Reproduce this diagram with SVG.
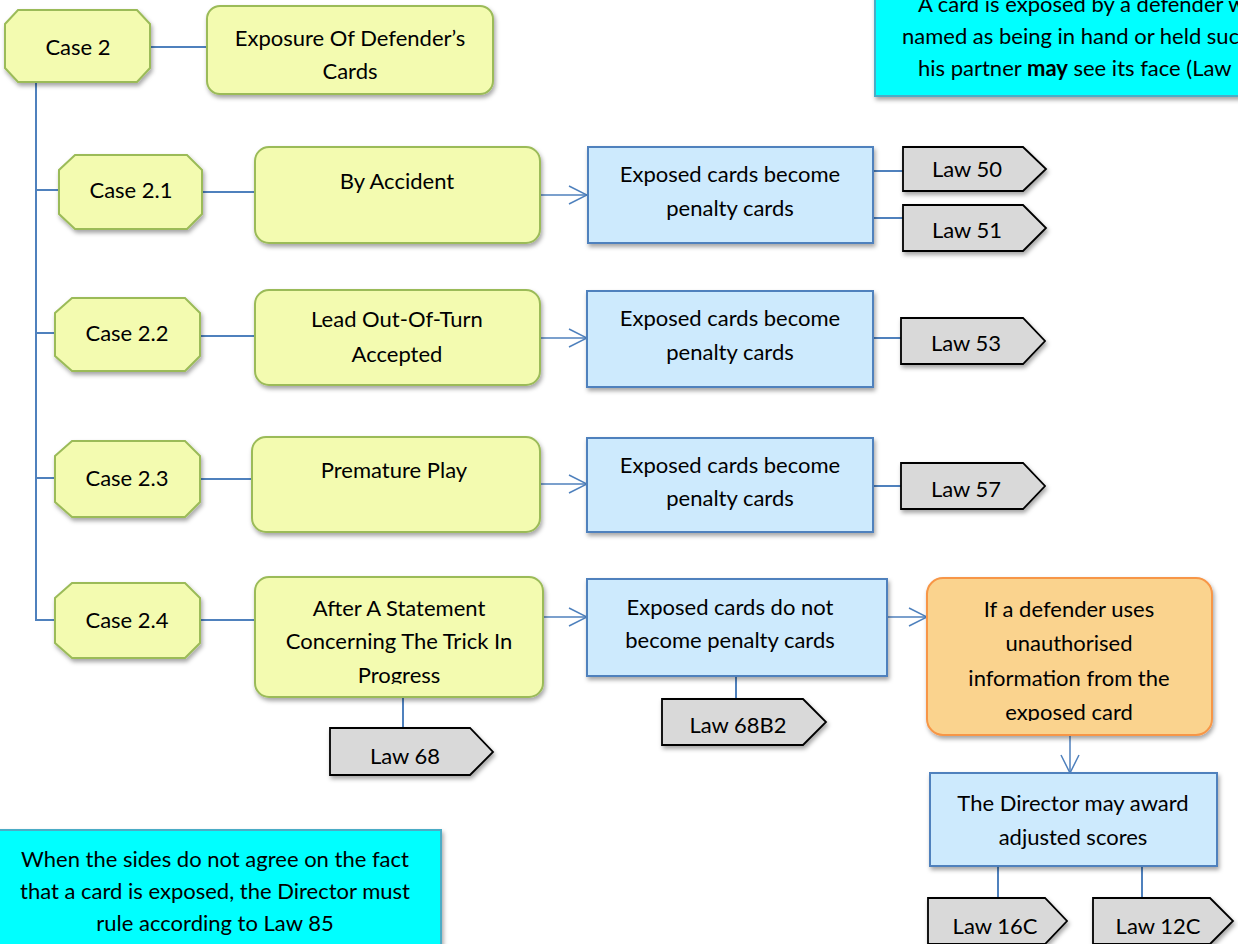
<svg xmlns="http://www.w3.org/2000/svg" width="1238" height="944" viewBox="0 0 1238 944">
<defs>
<filter id="sh" x="-10%" y="-10%" width="125%" height="130%">
<feDropShadow dx="1.5" dy="3" stdDeviation="2" flood-color="#000" flood-opacity="0.35"/>
</filter>
<marker id="arr" viewBox="0 0 20 20" refX="19" refY="10" markerWidth="20" markerHeight="20" markerUnits="userSpaceOnUse" orient="auto">
<path d="M1,1 L19,10 L1,19" fill="none" stroke="#4f81bd" stroke-width="1.5"/>
</marker>
<clipPath id="clipStmt"><rect x="255" y="577" width="288" height="107"/></clipPath>
<clipPath id="clipOr"><rect x="927" y="578" width="285" height="143"/></clipPath>
</defs>
<style>
text{font-family:Lato,"Open Sans","Liberation Sans",sans-serif;font-size:22px;fill:#000;text-anchor:middle}
.y{fill:#f3fbb0;stroke:#9bbb59;stroke-width:2;filter:url(#sh)}
.b{fill:#cdeafd;stroke:#4f81bd;stroke-width:2;filter:url(#sh)}
.o{fill:#fad38e;stroke:#f79646;stroke-width:2;filter:url(#sh)}
.c{fill:#00ffff;stroke:#4bacc6;stroke-width:2;filter:url(#sh)}
.t{fill:#d9d9d9;stroke:#000;stroke-width:1.8;filter:url(#sh)}
.ln{fill:none;stroke:#4f81bd;stroke-width:2}
.al{fill:none;stroke:#4f81bd;stroke-width:1.5;marker-end:url(#arr)}
.l{text-anchor:start}
</style>
<g id="connectors">
<line class="ln" x1="150" y1="47" x2="207" y2="47"/>
<line class="ln" x1="36" y1="82" x2="36" y2="621"/>
<line class="ln" x1="36" y1="190" x2="59" y2="190"/>
<line class="ln" x1="36" y1="333" x2="55" y2="333"/>
<line class="ln" x1="36" y1="478" x2="55" y2="478"/>
<line class="ln" x1="36" y1="620" x2="55" y2="620"/>
<line class="ln" x1="202" y1="192" x2="255" y2="192"/>
<line class="ln" x1="200" y1="336" x2="255" y2="336"/>
<line class="ln" x1="200" y1="479" x2="252" y2="479"/>
<line class="ln" x1="200" y1="620" x2="255" y2="620"/>
<line class="al" x1="540" y1="195" x2="587" y2="195"/>
<line class="al" x1="540" y1="338" x2="587" y2="338"/>
<line class="al" x1="540" y1="484" x2="587" y2="484"/>
<line class="al" x1="543" y1="617" x2="587" y2="617"/>
<line class="al" x1="887" y1="617" x2="927" y2="617"/>
<line class="al" x1="1070" y1="735" x2="1070" y2="773"/>
<line class="ln" x1="873" y1="171" x2="903" y2="171"/>
<line class="ln" x1="873" y1="218" x2="903" y2="218"/>
<line class="ln" x1="873" y1="338" x2="901" y2="338"/>
<line class="ln" x1="873" y1="486" x2="901" y2="486"/>
<line class="ln" x1="736" y1="676" x2="736" y2="699"/>
<line class="ln" x1="403" y1="697" x2="403" y2="728"/>
<line class="ln" x1="998" y1="866" x2="998" y2="898"/>
<line class="ln" x1="1142" y1="866" x2="1142" y2="898"/>
</g>
<g id="note-top">
<rect class="c" x="875" y="-10" width="380" height="106"/>
<text class="l" x="918" y="12">A card is exposed by a defender w</text>
<text class="l" x="902" y="44">named as being in hand or held suc</text>
<text class="l" x="918" y="76">his partner <tspan font-weight="bold">may</tspan> see its face (Law</text>
</g>
<g id="case2">
<polygon class="y" points="18,10 137,10 150,24 150,68 137,82 18,82 5,68 5,24"/>
<text x="78" y="55">Case 2</text>
</g>
<g id="exposure">
<rect class="y" x="207" y="6" width="286" height="88" rx="13"/>
<text x="350" y="46">Exposure Of Defender’s</text>
<text x="350" y="79">Cards</text>
</g>
<g id="case21">
<polygon class="y" points="75,155 187,155 202,170 202,214 187,229 75,229 59,214 59,170"/>
<text x="131" y="198">Case 2.1</text>
</g>
<g id="accident">
<rect class="y" x="255" y="147" width="285" height="96" rx="14"/>
<text x="397" y="189">By Accident</text>
</g>
<g id="pen1">
<rect class="b" x="588" y="147" width="285" height="96"/>
<text x="730" y="182">Exposed cards become</text>
<text x="730" y="216">penalty cards</text>
</g>
<g id="law50">
<polygon class="t" points="903,147 1023,147 1046,169 1023,191 903,191"/>
<text x="967" y="177">Law 50</text>
</g>
<g id="law51">
<polygon class="t" points="903,205 1023,205 1046,228 1023,251 903,251"/>
<text x="967" y="238">Law 51</text>
</g>
<g id="case22">
<polygon class="y" points="72,298 185,298 200,313 200,356 185,371 72,371 55,356 55,313"/>
<text x="127" y="341">Case 2.2</text>
</g>
<g id="leadout">
<rect class="y" x="255" y="290" width="285" height="95" rx="14"/>
<text x="397" y="327">Lead Out-Of-Turn</text>
<text x="397" y="362">Accepted</text>
</g>
<g id="pen2">
<rect class="b" x="587" y="291" width="286" height="96"/>
<text x="730" y="326">Exposed cards become</text>
<text x="730" y="360">penalty cards</text>
</g>
<g id="law53">
<polygon class="t" points="901,318 1023,318 1045,341 1023,364 901,364"/>
<text x="966" y="351">Law 53</text>
</g>
<g id="case23">
<polygon class="y" points="72,441 185,441 200,456 200,502 185,517 72,517 55,502 55,456"/>
<text x="127" y="486">Case 2.3</text>
</g>
<g id="premature">
<rect class="y" x="252" y="437" width="288" height="95" rx="14"/>
<text x="394" y="478">Premature Play</text>
</g>
<g id="pen3">
<rect class="b" x="587" y="438" width="286" height="94"/>
<text x="730" y="473">Exposed cards become</text>
<text x="730" y="506">penalty cards</text>
</g>
<g id="law57">
<polygon class="t" points="901,463 1023,463 1045,486 1023,509 901,509"/>
<text x="966" y="497">Law 57</text>
</g>
<g id="case24">
<polygon class="y" points="72,583 185,583 200,598 200,643 185,658 72,658 55,643 55,598"/>
<text x="127" y="628">Case 2.4</text>
</g>
<g id="statement">
<rect class="y" x="255" y="577" width="288" height="120" rx="14"/>
<g clip-path="url(#clipStmt)">
<text x="399" y="616">After A Statement</text>
<text x="399" y="649">Concerning The Trick In</text>
<text x="399" y="683">Progress</text>
</g>
</g>
<g id="law68">
<polygon class="t" points="330,728 470,728 493,752 470,775 330,775"/>
<text x="405" y="764">Law 68</text>
</g>
<g id="notpen">
<rect class="b" x="587" y="579" width="300" height="97"/>
<text x="730" y="615">Exposed cards do not</text>
<text x="730" y="648">become penalty cards</text>
</g>
<g id="law68b2">
<polygon class="t" points="662,699 803,699 826,722 803,745 662,745"/>
<text x="738" y="733">Law 68B2</text>
</g>
<g id="unauth">
<rect class="o" x="927" y="578" width="285" height="157" rx="16"/>
<g clip-path="url(#clipOr)">
<text x="1069" y="617">If a defender uses</text>
<text x="1069" y="651">unauthorised</text>
<text x="1069" y="686">information from the</text>
<text x="1069" y="720">exposed card</text>
</g>
</g>
<g id="director">
<rect class="b" x="930" y="773" width="287" height="93"/>
<text x="1073" y="811">The Director may award</text>
<text x="1073" y="845">adjusted scores</text>
</g>
<g id="law16c">
<polygon class="t" points="928,898 1045,898 1067,921 1045,944 928,944"/>
<text x="995" y="934">Law 16C</text>
</g>
<g id="law12c">
<polygon class="t" points="1093,898 1210,898 1233,921 1210,944 1093,944"/>
<text x="1158" y="934">Law 12C</text>
</g>
<g id="note-bottom">
<rect class="c" x="-5" y="830" width="446" height="130"/>
<text x="215" y="867">When the sides do not agree on the fact</text>
<text x="215" y="899">that a card is exposed, the Director must</text>
<text x="215" y="931">rule according to Law 85</text>
</g>
</svg>
